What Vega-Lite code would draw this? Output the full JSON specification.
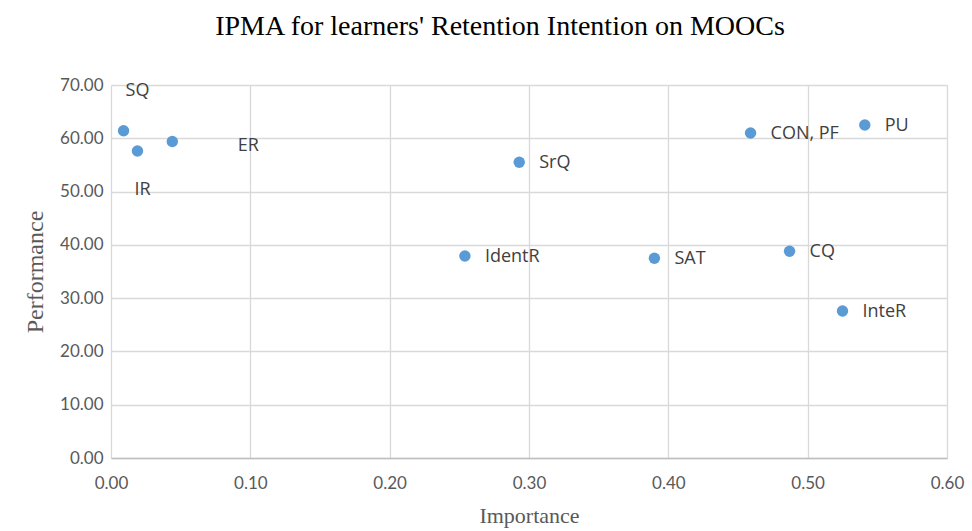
{
  "$schema": "https://vega.github.io/schema/vega-lite/v6.json",
  "width": 836,
  "height": 373,
  "autosize": {"type": "none"},
  "padding": {"left": 111, "top": 85, "right": 25, "bottom": 73},
  "background": "white",
  "title": {
    "text": "IPMA for learners' Retention Intention on MOOCs",
    "font": "Liberation Serif",
    "fontSize": 28,
    "fontWeight": "normal",
    "color": "#000000",
    "anchor": "middle",
    "dx": -29,
    "offset": 35
  },
  "data": {
    "values": [
      {"construct": "SQ", "importance": 0.009, "performance": 61.4},
      {"construct": "IR", "importance": 0.019, "performance": 57.6},
      {"construct": "ER", "importance": 0.044, "performance": 59.4},
      {"construct": "SrQ", "importance": 0.293, "performance": 55.5},
      {"construct": "IdentR", "importance": 0.254, "performance": 37.9},
      {"construct": "SAT", "importance": 0.390, "performance": 37.5},
      {"construct": "CON, PF", "importance": 0.459, "performance": 61.0},
      {"construct": "PU", "importance": 0.541, "performance": 62.5},
      {"construct": "CQ", "importance": 0.487, "performance": 38.8},
      {"construct": "InteR", "importance": 0.525, "performance": 27.6}
    ]
  },
  "encoding": {
    "x": {
      "field": "importance",
      "type": "quantitative",
      "scale": {"domain": [0, 0.6], "nice": false, "zero": true},
      "axis": {
        "title": "Importance",
        "titleFont": "Liberation Serif",
        "titleFontSize": 22,
        "titleFontWeight": "normal",
        "titleColor": "#595959",
        "titlePadding": 14,
        "values": [0, 0.1, 0.2, 0.3, 0.4, 0.5, 0.6],
        "format": ".2f",
        "labelFont": "Lato",
        "labelFontSize": 17,
        "labelColor": "#595959",
        "labelPadding": 17,
        "labelFlush": false,
        "ticks": false,
        "domain": true,
        "domainColor": "#bfbfbf",
        "domainWidth": 1.5,
        "grid": true,
        "gridColor": "#d9d9d9",
        "gridWidth": 1.3
      }
    },
    "y": {
      "field": "performance",
      "type": "quantitative",
      "scale": {"domain": [0, 70], "nice": false},
      "axis": {
        "title": "Performance",
        "titleFont": "Liberation Serif",
        "titleFontSize": 24,
        "titleFontWeight": "normal",
        "titleColor": "#595959",
        "titlePadding": 12,
        "values": [0, 10, 20, 30, 40, 50, 60, 70],
        "format": ".2f",
        "labelFont": "Lato",
        "labelFontSize": 17,
        "labelColor": "#595959",
        "labelPadding": 8,
        "ticks": false,
        "domain": false,
        "grid": true,
        "gridColor": "#d9d9d9",
        "gridWidth": 1.3
      }
    }
  },
  "layer": [
    {
      "mark": {"type": "point", "filled": true, "size": 130, "color": "#5b9bd5", "opacity": 1}
    },
    {
      "transform": [{"filter": "datum.construct != 'SQ' && datum.construct != 'IR' && datum.construct != 'ER'"}],
      "mark": {"type": "text", "align": "left", "baseline": "middle", "dx": 20, "dy": 1, "font": "Open Sans", "fontSize": 18, "color": "#404040"},
      "encoding": {"text": {"field": "construct"}}
    },
    {
      "transform": [{"filter": "datum.construct == 'SQ'"}],
      "mark": {"type": "text", "align": "center", "baseline": "middle", "dx": 14, "dy": -40, "font": "Open Sans", "fontSize": 18, "color": "#404040"},
      "encoding": {"text": {"field": "construct"}}
    },
    {
      "transform": [{"filter": "datum.construct == 'IR'"}],
      "mark": {"type": "text", "align": "center", "baseline": "middle", "dx": 5, "dy": 39, "font": "Open Sans", "fontSize": 18, "color": "#404040"},
      "encoding": {"text": {"field": "construct"}}
    },
    {
      "transform": [{"filter": "datum.construct == 'ER'"}],
      "mark": {"type": "text", "align": "center", "baseline": "middle", "dx": 76, "dy": 5, "font": "Open Sans", "fontSize": 18, "color": "#404040"},
      "encoding": {"text": {"field": "construct"}}
    }
  ],
  "config": {"view": {"stroke": null}}
}
